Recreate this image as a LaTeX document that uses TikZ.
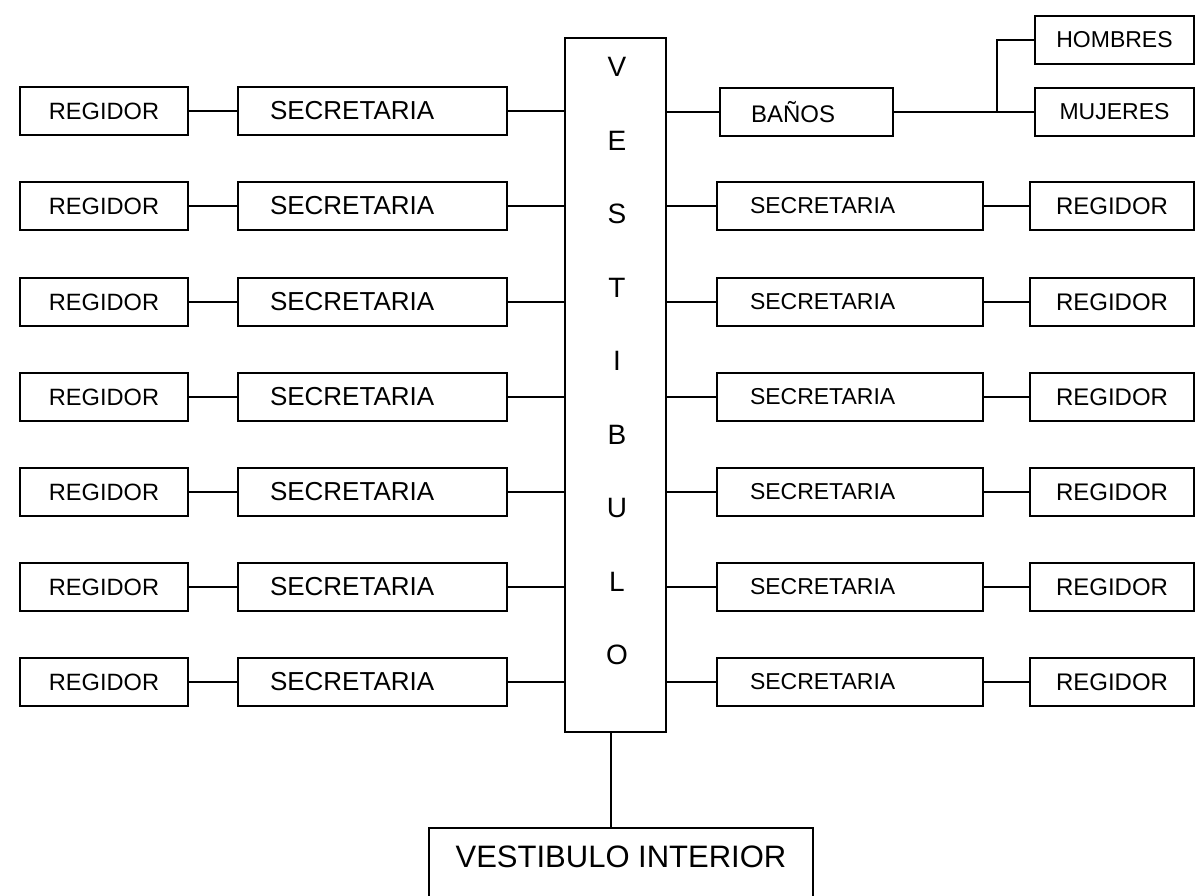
\documentclass[tikz,border=0pt]{standalone}
\usepackage{fontspec}
\setmainfont{Liberation Sans}
\usetikzlibrary{positioning}

\begin{document}
\begin{tikzpicture}[
      x=1pt,y=-1pt,
      box/.style={
         rectangle,
         draw,
         line width=1.8pt,
         minimum height=48pt,
         inner sep=0pt,
         font=\fontsize{23.6}{28}\selectfont
      },
      regidor/.style={box, minimum width=168pt},
      regidorr/.style={box, minimum width=164pt, font=\fontsize{24}{28}\selectfont},
      secretaria/.style={
         box,
         text width=205pt, inner xsep=32pt, align=left,
         font=\fontsize{26}{30}\selectfont
      },
      secretariar/.style={
         box,
         text width=200pt, inner xsep=33pt, align=left,
         font=\fontsize{23}{28}\selectfont
      },
      vestibulo/.style={
         rectangle, draw, line width=1.8pt,
         minimum width=101pt, minimum height=694pt
      },
      link/.style={draw, line width=1.8pt},
      point/.style={coordinate}
    ]
    \useasboundingbox (0,0) rectangle (1196,896);
    % left side
    \node (n11) at (104,111) [regidor] {REGIDOR};
    \node (n12) at (372.5,111) [secretaria] {SECRETARIA};
    \node (n21) at (104,206) [regidor] {REGIDOR};
    \node (n22) at (372.5,206) [secretaria] {SECRETARIA};
    \node (n31) at (104,302) [regidor] {REGIDOR};
    \node (n32) at (372.5,302) [secretaria] {SECRETARIA};
    \node (n41) at (104,397) [regidor] {REGIDOR};
    \node (n42) at (372.5,397) [secretaria] {SECRETARIA};
    \node (n51) at (104,492) [regidor] {REGIDOR};
    \node (n52) at (372.5,492) [secretaria] {SECRETARIA};
    \node (n61) at (104,587) [regidor] {REGIDOR};
    \node (n62) at (372.5,587) [secretaria] {SECRETARIA};
    \node (n71) at (104,682) [regidor] {REGIDOR};
    \node (n72) at (372.5,682) [secretaria] {SECRETARIA};
    % vestibulo
    \node (n3) at (615.5,385) [vestibulo] {};
    \node (n3t) at (617,361) [align=center, font=\fontsize{28}{73.5}\selectfont] {V\\E\\S\\T\\I\\B\\U\\L\\O};
    \node (n83) at (621,827) [anchor=north, draw, line width=1.8pt, minimum width=384pt,
       inner sep=0pt, text height=40pt, text depth=31pt,
       font=\fontsize{31}{36}\selectfont] {VESTIBULO INTERIOR};
    % right side
    \node (n14) at (806.5,112) [box, text width=111pt, inner xsep=31pt, align=left,
       minimum width=173pt, font=\fontsize{24}{28}\selectfont] {BAÑOS};
    \node (n05) at (1114.5,40) [box, minimum width=159pt, font=\fontsize{23}{28}\selectfont] {HOMBRES};
    \node (n15) at (1114.5,112) [box, minimum width=159pt, font=\fontsize{23}{28}\selectfont] {MUJERES};
    \node (n06) at (997,112) [point] {};
    \node (n24) at (850,206) [secretariar] {SECRETARIA};
    \node (n25) at (1112,206) [regidorr] {REGIDOR};
    \node (n34) at (850,302) [secretariar] {SECRETARIA};
    \node (n35) at (1112,302) [regidorr] {REGIDOR};
    \node (n44) at (850,397) [secretariar] {SECRETARIA};
    \node (n45) at (1112,397) [regidorr] {REGIDOR};
    \node (n54) at (850,492) [secretariar] {SECRETARIA};
    \node (n55) at (1112,492) [regidorr] {REGIDOR};
    \node (n64) at (850,587) [secretariar] {SECRETARIA};
    \node (n65) at (1112,587) [regidorr] {REGIDOR};
    \node (n74) at (850,682) [secretariar] {SECRETARIA};
    \node (n75) at (1112,682) [regidorr] {REGIDOR};

    \draw[link] (n11) -- (n12);  \draw[link] (n12) -- (n12 -| n3.west);
    \draw[link] (n21) -- (n22);  \draw[link] (n22) -- (n22 -| n3.west);
    \draw[link] (n31) -- (n32);  \draw[link] (n32) -- (n32 -| n3.west);
    \draw[link] (n41) -- (n42);  \draw[link] (n42) -- (n42 -| n3.west);
    \draw[link] (n51) -- (n52);  \draw[link] (n52) -- (n52 -| n3.west);
    \draw[link] (n61) -- (n62);  \draw[link] (n62) -- (n62 -| n3.west);
    \draw[link] (n71) -- (n72);  \draw[link] (n72) -- (n72 -| n3.west);

    \draw[link] (n3.east |- n14) -- (n14);  \draw[link] (n14) -- (n15);
    \draw[link] (n06) |- (n05);
    \draw[link] (n3.east |- n24) -- (n24);  \draw[link] (n24) -- (n25);
    \draw[link] (n3.east |- n34) -- (n34);  \draw[link] (n34) -- (n35);
    \draw[link] (n3.east |- n44) -- (n44);  \draw[link] (n44) -- (n45);
    \draw[link] (n3.east |- n54) -- (n54);  \draw[link] (n54) -- (n55);
    \draw[link] (n3.east |- n64) -- (n64);  \draw[link] (n64) -- (n65);
    \draw[link] (n3.east |- n74) -- (n74);  \draw[link] (n74) -- (n75);

    \draw[link] ([xshift=-4.5pt]n3.south) -- ([xshift=-4.5pt]n3.south |- n83.north);
\end{tikzpicture}
\end{document}
